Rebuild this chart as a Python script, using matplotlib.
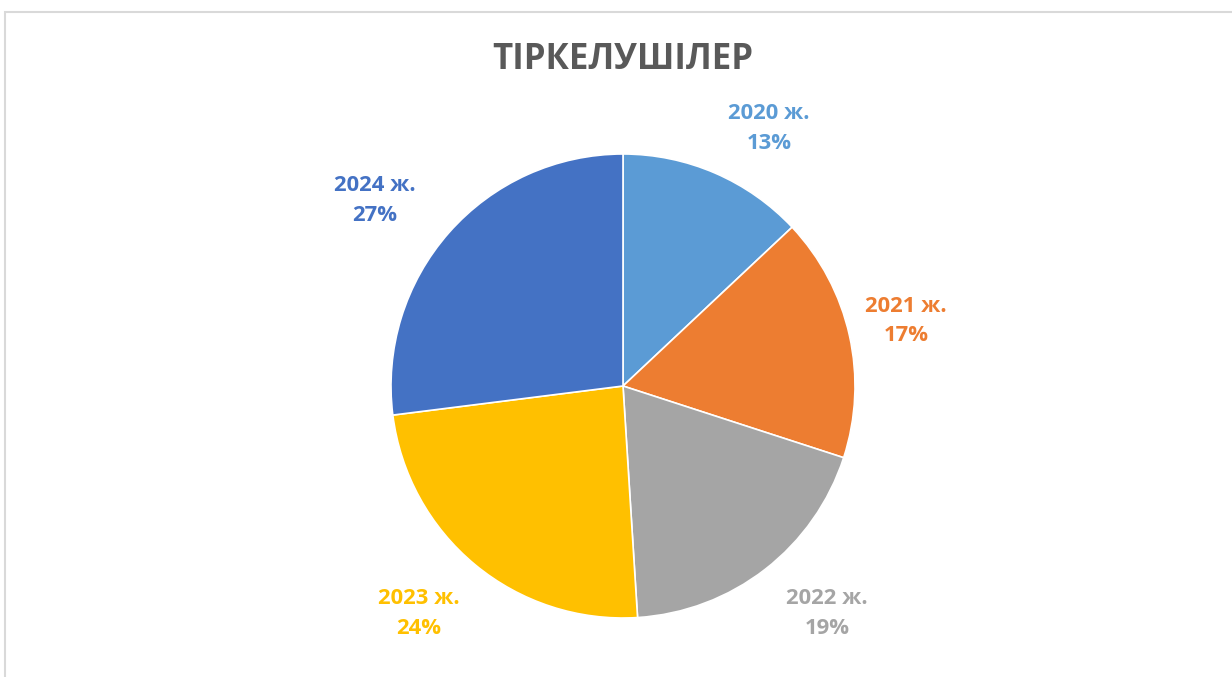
import matplotlib
matplotlib.use('Agg')
import matplotlib.pyplot as plt
from matplotlib.patches import Rectangle

# data
years = ['2020 ж.', '2021 ж.', '2022 ж.', '2023 ж.', '2024 ж.']
shares = [13, 17, 19, 24, 27]
colors = ['#5B9BD5', '#ED7D31', '#A5A5A5', '#FFC000', '#4472C4']

plt.rcParams['font.family'] = ['Open Sans', 'DejaVu Sans']

W, H = 1232, 677
fig = plt.figure(figsize=(W / 100, H / 100), dpi=100)

# light frame around the chart area
frame = Rectangle((5 / W, -0.05), 1.2, 1 - 12 / H + 0.05, transform=fig.transFigure,
                  facecolor='none', edgecolor='#D9D9D9', linewidth=1.5, clip_on=False)
fig.patches.append(frame)

# pie axes: centre (623, 386) px, radius 232 px
cx, cy, r = 623, 386, 232
ax = fig.add_axes([(cx - r) / W, (H - cy - r) / H, 2 * r / W, 2 * r / H])
wedges, _ = ax.pie(shares, colors=colors, startangle=90, counterclock=False,
                   wedgeprops=dict(edgecolor='white', linewidth=1.2))
ax.set_xlim(-1, 1)
ax.set_ylim(-1, 1)
ax.set_aspect('equal')

# label positions relative to the pie (in radii)
label_pos = [(0.63, 1.11), (1.22, 0.28), (0.88, -0.98), (-0.88, -0.98), (-1.07, 0.80)]
for name, val, col, (lx, ly) in zip(years, shares, colors, label_pos):
    ax.text(lx, ly, f'{name}\n{val}%', ha='center', va='center', color=col,
            fontsize=15.8, fontweight='bold', linespacing=1.55, clip_on=False)

fig.text(623 / W, 1 - 60 / H, 'ТІРКЕЛУШІЛЕР', ha='center', va='center',
         fontsize=25, fontweight='bold', color='#595959')

fig.savefig('out.png', dpi=100)
